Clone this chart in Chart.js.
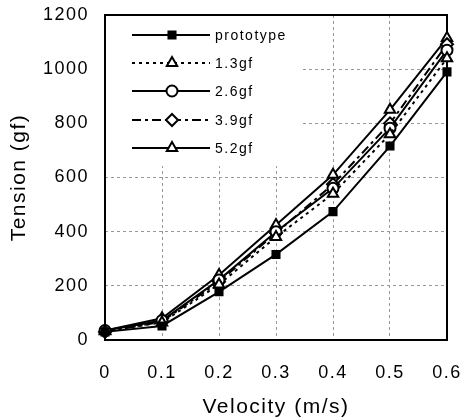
<!DOCTYPE html>
<html>
<head>
<meta charset="utf-8">
<script src="https://cdn.jsdelivr.net/npm/chart.js@4/dist/chart.umd.min.js"></script>
<style>
html,body{margin:0;padding:0;background:#fff;}
#wrap{width:462px;height:420px;}
</style>
</head>
<body>
<div id="wrap"><canvas id="c" width="462" height="420"></canvas></div>
<script>
const velocity = [0, 0.1, 0.2, 0.3, 0.4, 0.5, 0.6];
const xTickLabels = ['0', '0.1', '0.2', '0.3', '0.4', '0.5', '0.6'];
const yTickLabels = ['0', '200', '400', '600', '800', '1000', '1200'];
const seriesNames = ['prototype', '1.3gf', '2.6gf', '3.9gf', '5.2gf'];
const prototype = [30, 52, 178, 316, 474, 716, 990];
const gf13 = [32, 65, 205, 380, 540, 760, 1040];
const gf26 = [35, 72, 222, 400, 560, 782, 1070];
const gf39 = [30, 68, 215, 395, 575, 800, 1092];
const gf52 = [35, 80, 240, 425, 610, 850, 1115];

const FONT = "'Liberation Sans', Arial, sans-serif";
const seriesValues = [prototype, gf13, gf26, gf39, gf52];
const styles = [
  {dash: [], point: 'rect', fill: '#000', r: 5},
  {dash: [3, 4], point: 'triangle', fill: '#fff', r: 6},
  {dash: [], point: 'circle', fill: '#fff', r: 5.5},
  {dash: [9, 4, 3, 4], point: 'rectRot', fill: '#fff', r: 6},
  {dash: [], point: 'triangle', fill: '#fff', r: 6}
];

const datasets = seriesNames.map((name, i) => ({
  label: name,
  data: velocity.map((v, j) => ({x: v, y: seriesValues[i][j]})),
  borderColor: '#000',
  borderWidth: 2,
  borderDash: styles[i].dash,
  pointStyle: styles[i].point,
  pointRadius: styles[i].r,
  pointBackgroundColor: styles[i].fill,
  pointBorderColor: '#000',
  pointBorderWidth: 2,
  tension: 0,
  clip: false,
  fill: false
}));

const framePlugin = {
  id: 'frame',
  beforeDraw(chart) {
    chart.ctx.letterSpacing = '1.5px';
  },
  beforeDatasetsDraw(chart) {
    const {ctx, chartArea: a} = chart;
    ctx.save();
    ctx.fillStyle = '#fff';
    ctx.fillRect(a.left + 1, a.top + 1, 195, 150);
    ctx.strokeStyle = '#000';
    ctx.lineWidth = 2;
    ctx.setLineDash([]);
    ctx.strokeRect(a.left, a.top, a.right - a.left, a.bottom - a.top);
    ctx.restore();
  },
  afterDatasetsDraw(chart) {
    const {ctx, chartArea: a} = chart;
    ctx.save();
    const x0 = a.left + 27, x1 = a.left + 105, xm = a.left + 67, xt = a.left + 110;
    const ys = [35, 63, 91, 120, 148];
    chart.data.datasets.forEach((ds, i) => {
      const y = ys[i];
      ctx.strokeStyle = '#000';
      ctx.lineWidth = 2;
      ctx.setLineDash(ds.borderDash);
      ctx.beginPath();
      ctx.moveTo(x0, y);
      ctx.lineTo(x1, y);
      ctx.stroke();
      ctx.setLineDash([]);
      ctx.fillStyle = ds.pointBackgroundColor;
      ctx.lineWidth = 2;
      Chart.helpers.drawPoint(ctx, {pointStyle: ds.pointStyle, radius: ds.pointRadius, rotation: 0, borderWidth: 2}, xm, y);
      ctx.fillStyle = '#000';
      ctx.font = '14px ' + FONT;
      ctx.letterSpacing = '1.5px';
      ctx.textBaseline = 'middle';
      ctx.textAlign = 'left';
      ctx.fillText(ds.label, xt, y + 1);
    });
    ctx.restore();
  }
};

new Chart(document.getElementById('c'), {
  type: 'line',
  data: {datasets},
  plugins: [framePlugin],
  options: {
    responsive: false,
    animation: false,
    devicePixelRatio: 1,
    layout: {padding: {top: 15, right: 15, left: 0, bottom: 0}},
    plugins: {legend: {display: false}, tooltip: {enabled: false}},
    scales: {
      x: {
        type: 'linear',
        min: 0, max: 0.6,
        afterFit(s) { s.height = 80; s.paddingLeft = 0; s.paddingRight = 0; },
        ticks: {
          stepSize: 0.1,
          padding: 22,
          color: '#000',
          font: {family: FONT, size: 18},
          callback: (v, i) => xTickLabels[i]
        },
        grid: {color: '#999', lineWidth: 1, drawTicks: false},
        border: {display: false, dash: [3, 3]},
        title: {display: true, text: 'Velocity (m/s)', color: '#000', font: {family: FONT, size: 21}, padding: {top: 0, bottom: 0}}
      },
      y: {
        type: 'linear',
        min: 0, max: 1200,
        afterFit(s) { s.width = 105; s.paddingTop = 0; s.paddingBottom = 0; },
        ticks: {
          stepSize: 200,
          padding: 16,
          color: '#000',
          font: {family: FONT, size: 18},
          callback: (v, i) => yTickLabels[i]
        },
        grid: {color: '#999', lineWidth: 1, drawTicks: false},
        border: {display: false, dash: [3, 3]},
        title: {display: true, text: 'Tension (gf)', color: '#000', font: {family: FONT, size: 21}, padding: {top: 7, bottom: 0}}
      }
    }
  }
});
</script>
</body>
</html>
